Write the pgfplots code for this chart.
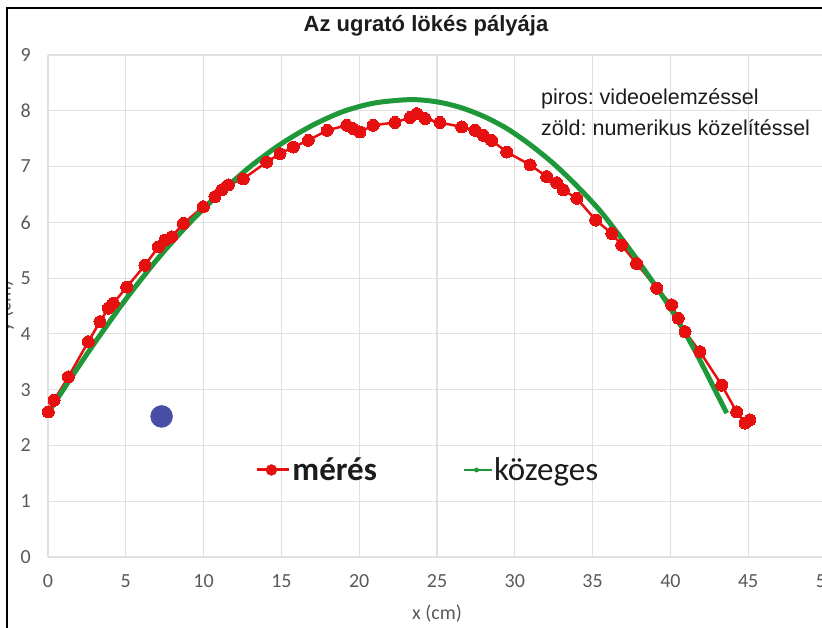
\documentclass[border=0pt]{standalone}
\usepackage{pgfplots}
\pgfplotsset{compat=1.18}
\usepackage{fontspec}
\setmainfont{Carlito}
\newfontfamily\arialfont{Liberation Sans}
\frenchspacing
\definecolor{redc}{RGB}{230,16,16}
\definecolor{greenc}{RGB}{30,152,56}
\definecolor{bluec}{RGB}{70,78,165}
\definecolor{tickc}{RGB}{89,89,89}
\definecolor{gridc}{RGB}{224,224,224}
\definecolor{txtc}{RGB}{28,28,28}
\begin{document}
\begin{tikzpicture}[x=1pt,y=1pt]
\begin{axis}[
  at={(48pt,71pt)}, anchor=south west,
  scale only axis, width=778pt, height=502pt,
  xmin=0, xmax=50, ymin=0, ymax=9,
  xtick={0,5,...,50}, ytick={0,1,...,9},
  grid=major, major grid style={draw=gridc, line width=1.2pt},
  axis line style={draw=none},
  major tick length=0pt,
  clip=false,
  /pgf/number format/assume math mode=true,
  tick label style={font=\fontsize{20}{24}\selectfont, text=tickc},
  xticklabel style={inner sep=0pt, anchor=north, yshift=-17pt},
  yticklabel style={inner sep=0pt, anchor=east, xshift=-17pt},
  xlabel={x (cm)},
  xlabel style={at={(axis description cs:0.5,0)}, anchor=center, yshift=-57pt, font=\fontsize{20}{24}\selectfont, text=tickc},
  legend columns=2,
  legend cell align=left,
  legend style={at={(axis cs:13.35,1.56)}, anchor=west, draw=none, fill=none, inner sep=0pt,
    font=\fontsize{33}{37}\selectfont, text=txtc, nodes={inner sep=1.5pt},
    /tikz/every even column/.append style={column sep=84pt}},
]
% measured (red)
\addplot[forget plot, draw=redc, line width=2.5pt, mark=*, mark size=6pt, mark options={fill=redc, draw=redc, line width=0pt}] coordinates {
(0.02,2.60) (0.39,2.81) (1.31,3.23) (2.59,3.86) (3.34,4.22) (3.88,4.46) (4.20,4.55)
(5.06,4.84) (6.23,5.23) (7.09,5.56) (7.52,5.68) (7.95,5.74) (8.70,5.98) (9.98,6.28)
(10.73,6.46) (11.16,6.58) (11.59,6.67) (12.55,6.78) (14.05,7.08) (14.91,7.23) (15.77,7.35)
(16.73,7.47) (17.95,7.65) (19.20,7.74) (19.62,7.68) (20.05,7.62) (20.90,7.74) (22.30,7.79)
(23.27,7.88) (23.70,7.95) (24.23,7.86) (25.19,7.79) (26.59,7.71) (27.44,7.65) (27.98,7.56)
(28.51,7.47) (29.48,7.26) (30.98,7.03) (32.05,6.82) (32.69,6.71) (33.12,6.58) (33.98,6.43)
(35.20,6.04) (36.23,5.80) (36.87,5.59) (37.83,5.26) (39.12,4.82) (40.08,4.52) (40.51,4.28)
(40.94,4.04) (41.90,3.68) (43.30,3.08) (44.26,2.60) (44.80,2.40) (45.10,2.46)
};
% numerical (green)
\addplot[forget plot, draw=greenc, line width=5pt, smooth, no marks] coordinates {
(0.00,2.58) (1.50,3.22) (3.00,3.84) (5.00,4.62) (7.00,5.33) (9.00,5.96) (11.00,6.51)
(13.00,7.00) (15.00,7.41) (17.00,7.74) (19.00,7.99) (21.00,8.14) (23.30,8.20)
(25.00,8.16) (26.50,8.06) (28.00,7.90) (29.50,7.68) (31.00,7.39) (32.50,7.05)
(34.00,6.65) (35.50,6.20) (37.00,5.66) (38.50,5.08) (40.00,4.46) (41.50,3.74)
(43.00,2.92) (43.62,2.58)
};
% blue dot
\addplot[forget plot, only marks, mark=*, mark size=11pt, mark options={fill=bluec, draw=bluec}] coordinates {(7.3,2.52)};
\addlegendimage{legend image code/.code={\draw[draw=redc, line width=3pt] (0pt,0pt) -- (32pt,0pt); \fill[redc] (14pt,0pt) circle (5.5pt);}}
\addlegendentry{\textbf{mérés}}
\addlegendimage{legend image code/.code={\draw[draw=greenc, line width=2pt] (0pt,0pt) -- (28pt,0pt); \fill[greenc] (13pt,0pt) circle (2.2pt);}}
\addlegendentry{közeges}
\end{axis}
\node[font=\arialfont\bfseries\fontsize{22}{26}\selectfont, text=txtc] at (426pt,602pt) {Az ugrató lökés pályája};
\node[anchor=base west, inner sep=0pt, font=\arialfont\fontsize{21.5}{26}\selectfont, text=txtc] at (541pt,523pt) {piros: videoelemzéssel};
\node[anchor=base west, inner sep=0pt, font=\arialfont\fontsize{21.5}{26}\selectfont, text=txtc] at (541pt,492pt) {zöld: numerikus közelítéssel};
\begin{scope}
\clip (7.5pt,200pt) rectangle (40pt,450pt);
\node[rotate=90, font=\fontsize{20}{24}\selectfont, text=tickc] at (5pt,322pt) {y (cm)};
\end{scope}
\draw[black, line width=1.5pt] (830pt,620pt) -- (7pt,620pt) -- (7pt,-5pt);
\pgfresetboundingbox
\useasboundingbox (0pt,0pt) rectangle (822pt,628pt);
\end{tikzpicture}
\end{document}
